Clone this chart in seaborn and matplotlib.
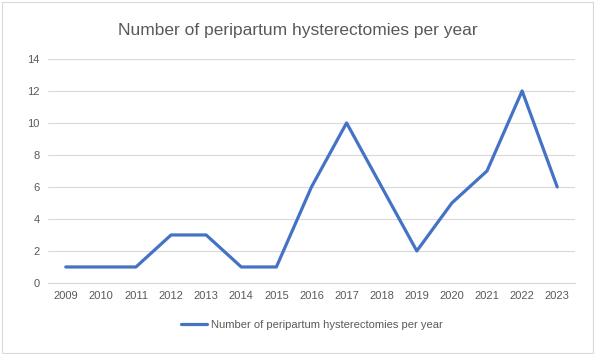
import pandas as pd
import seaborn as sns
import matplotlib.pyplot as plt

years = ['2009', '2010', '2011', '2012', '2013', '2014', '2015', '2016',
         '2017', '2018', '2019', '2020', '2021', '2022', '2023']
counts = [1, 1, 1, 3, 3, 1, 1, 6, 10, 6, 2, 5, 7, 12, 6]
label = 'Number of peripartum hysterectomies per year'

df = pd.DataFrame({'year': years, 'count': counts})

sns.set_style('white')
plt.rcParams['font.family'] = ['Liberation Sans', 'DejaVu Sans']
grey = '#595959'

fig = plt.figure(figsize=(5.95, 3.54), dpi=100)
ax = fig.add_axes([0.081, 0.2006, 0.885, 0.633])

sns.lineplot(x='year', y='count', data=df, color='#4472C4', linewidth=2.3,
             label=label, ax=ax, sort=False)

ax.set_xlim(-0.5, len(years) - 0.5)
ax.set_ylim(0, 14)
ax.set_yticks(range(0, 15, 2))
ax.yaxis.grid(True, color='#d9d9d9', linewidth=0.8)
ax.set_axisbelow(True)
for s in ['top', 'right', 'left']:
    ax.spines[s].set_visible(False)
ax.spines['bottom'].set_color('#d9d9d9')
ax.tick_params(axis='both', length=0, labelsize=8, labelcolor=grey, pad=6)
ax.set_xlabel('')
ax.set_ylabel('')

fig.suptitle(label, x=0.5, y=0.935, fontsize=12.5, color=grey)
ax.legend(loc='upper center', bbox_to_anchor=(0.5, -0.12), frameon=False,
          fontsize=8, labelcolor=grey, handlelength=2.4, handletextpad=0.3)

# outer chart border
fig.patches.append(plt.Rectangle((0.003, 0.004), 0.994, 0.99, transform=fig.transFigure,
                                 fill=False, edgecolor='#d9d9d9', linewidth=0.8))

plt.savefig('out.png', dpi=100)
